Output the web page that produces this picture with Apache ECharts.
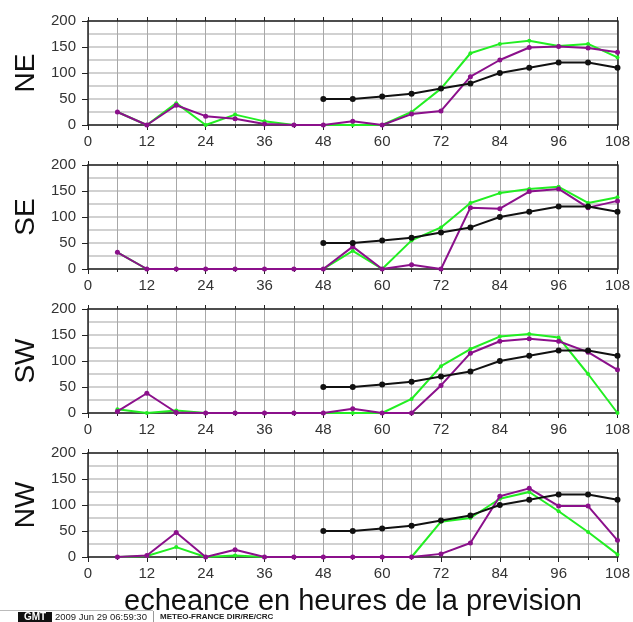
<!DOCTYPE html>
<html><head><meta charset="utf-8">
<script src="https://cdn.jsdelivr.net/npm/echarts@6/dist/echarts.min.js"></script>
<style>html,body{margin:0;padding:0;background:#fff}#c{width:633px;height:622px}</style>
</head><body><div id="c"></div>
<script>
const hours = [6,12,18,24,30,36,42,48,54,60,66,72,78,84,90,96,102,108];
const panelNames = ['NE','SE','SW','NW'];
const xTicks = [0,12,24,36,48,60,72,84,96,108];
const yTicks = [0,50,100,150,200];
const refHours = [48,54,60,66,72,78,84,90,96,102,108];
const refValues = [50,50,55,60,70,80,100,110,120,120,110];

const greenNE  = [25,0,42,0,20,7,0,0,0,0,25,70,138,156,162,152,156,130];
const purpleNE = [25,0,38,17,12,2,0,0,7,0,21,27,93,125,149,151,148,140];
const greenSE  = [32,0,0,0,0,0,0,0,35,0,55,80,127,146,154,158,127,138];
const purpleSE = [32,0,0,0,0,0,0,0,43,0,8,0,118,116,149,154,118,131];
const greenSW  = [7,0,5,0,0,0,0,0,0,0,27,90,123,147,152,145,75,0];
const purpleSW = [3,38,1,0,0,0,0,0,8,0,0,53,115,138,143,138,117,83];
const greenNW  = [0,2,19,0,3,0,0,0,0,0,0,68,75,112,125,88,48,5];
const purpleNW = [0,3,47,0,14,0,0,0,0,0,0,6,27,117,132,98,98,32];

const greens = [greenNE, greenSE, greenSW, greenNW];
const purples = [purpleNE, purpleSE, purpleSW, purpleNW];
const xTitle = 'echeance en heures de la prevision';
const stamp = '2009 Jun 29 06:59:30';
const credit = 'METEO-FRANCE DIR/RE/CRC';

const chart = echarts.init(document.getElementById('c'), null, {renderer:'canvas'});
const tops = [21,165,309,453];
const H = 104;
const grids = [], xAxes = [], yAxes = [], series = [];
const font = 'Liberation Sans';
const hGrid = '#c2c2c2', vGrid = '#a8a8a8';
const zip = (xs, ys) => xs.map((x,i)=>[x, ys[i]]);

panelNames.forEach((name, i) => {
  grids.push({left:88, right:14, top:tops[i], height:H});
  xAxes.push({
    type:'value', gridIndex:i, min:0, max:108, interval:12,
    axisLine:{show:true, onZero:false, lineStyle:{color:'#222', width:1.5}},
    axisTick:{show:true, length:5, lineStyle:{color:'#222'}},
    minorTick:{show:true, splitNumber:2, length:3, lineStyle:{color:'#222'}},
    axisLabel:{show:true, color:'#333', fontFamily:font, fontSize:15, margin:9,
      formatter:v => xTicks.includes(v) ? String(v) : ''},
    splitLine:{show:true, lineStyle:{color:vGrid, width:1}},
    minorSplitLine:{show:true, lineStyle:{color:vGrid, width:1}}
  });
  xAxes.push({
    type:'value', gridIndex:i, position:'top', min:0, max:108, interval:12,
    axisLine:{show:true, onZero:false, lineStyle:{color:'#222', width:1.5}},
    axisTick:{show:true, length:4, lineStyle:{color:'#222'}},
    minorTick:{show:true, splitNumber:2, length:3, lineStyle:{color:'#222'}},
    axisLabel:{show:false}, splitLine:{show:false}
  });
  yAxes.push({
    type:'value', gridIndex:i, min:0, max:200, interval:50,
    name:name, nameLocation:'middle', nameRotate:90, nameGap:44,
    nameTextStyle:{fontFamily:font, fontSize:28, color:'#111'},
    axisLine:{show:true, onZero:false, lineStyle:{color:'#222', width:1.5}},
    axisTick:{show:true, length:6, lineStyle:{color:'#222'}},
    axisLabel:{color:'#333', fontFamily:font, fontSize:15, margin:12,
      formatter:v => yTicks.includes(v) ? String(v) : ''},
    splitLine:{show:true, lineStyle:{color:hGrid, width:1.5}},
    minorSplitLine:{show:true, lineStyle:{color:hGrid, width:1.5}},
    minorTick:{show:false, splitNumber:2}
  });
  yAxes.push({
    type:'value', gridIndex:i, position:'right', min:0, max:200, interval:50,
    axisLine:{show:true, onZero:false, lineStyle:{color:'#222', width:1.5}},
    axisTick:{show:false}, axisLabel:{show:false}, splitLine:{show:false}
  });
  series.push({
    type:'line', xAxisIndex:2*i, yAxisIndex:2*i, data:zip(hours, greens[i]),
    symbol:'circle', symbolSize:4, color:'#22ee22',
    lineStyle:{color:'#22ee22', width:2}, itemStyle:{color:'#22ee22'}, animation:false, z:2
  });
  series.push({
    type:'line', xAxisIndex:2*i, yAxisIndex:2*i, data:zip(hours, purples[i]),
    symbol:'circle', symbolSize:5, color:'#8b108b',
    lineStyle:{color:'#8b108b', width:2}, itemStyle:{color:'#8b108b'}, animation:false, z:3
  });
  series.push({
    type:'line', xAxisIndex:2*i, yAxisIndex:2*i, data:zip(refHours, refValues),
    symbol:'circle', symbolSize:6, color:'#111',
    lineStyle:{color:'#111', width:2}, itemStyle:{color:'#111'}, animation:false, z:4
  });
});

chart.setOption({
  animation:false,
  grid:grids, xAxis:xAxes, yAxis:yAxes, series:series,
  graphic:[
    {type:'rect', left:0, top:610, shape:{width:153, height:1}, style:{fill:'#bbb'}, z:1},
    {type:'text', x:353, y:602, style:{text:xTitle, align:'center', verticalAlign:'middle',
      font:'29px "Liberation Sans"', fill:'#111'}, z:5},
    {type:'rect', left:18, top:612, shape:{width:34, height:10}, style:{fill:'#111'}},
    {type:'text', x:35, y:617, style:{text:'GMT', align:'center', verticalAlign:'middle', font:'bold 10px "Liberation Sans"', fill:'#fff'}},
    {type:'text', x:55, y:617, style:{text:stamp, verticalAlign:'middle', font:'9.5px "Liberation Sans"', fill:'#222'}},
    {type:'rect', left:153, top:611, shape:{width:1, height:11}, style:{fill:'#999'}},
    {type:'text', x:160, y:617, style:{text:credit, verticalAlign:'middle', font:'bold 8px "Liberation Sans"', fill:'#222'}}
  ]
});
</script></body></html>
